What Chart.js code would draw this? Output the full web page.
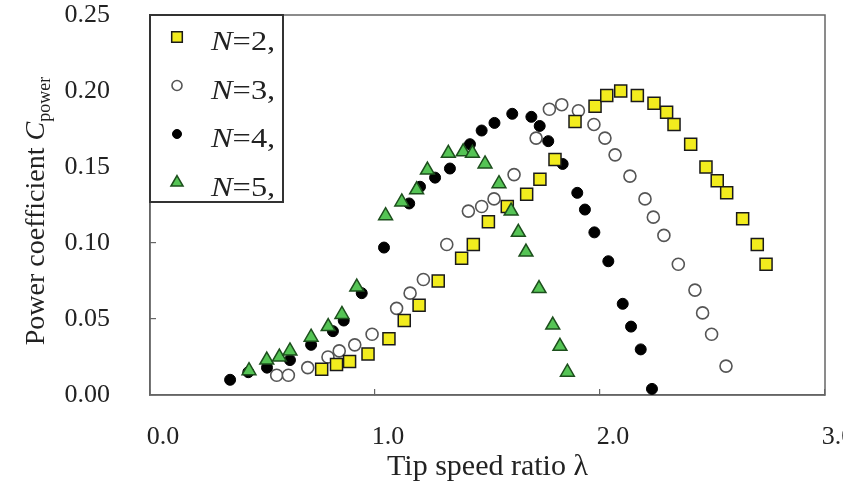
<!DOCTYPE html>
<html>
<head>
<meta charset="utf-8">
<script src="https://cdn.jsdelivr.net/npm/chart.js@4.4.1/dist/chart.umd.min.js"></script>
<style>
  body { margin: 0; background: #fff; }
</style>
</head>
<body>
<canvas id="myChart" width="843" height="492"></canvas>
<script>
// blade numbers
const bladeCounts = ['2', '3', '4', '5'];

// N=2 (yellow squares)
const lambdaN2 = [0.763, 0.829, 0.887, 0.969, 1.062, 1.130, 1.196, 1.281, 1.385, 1.437, 1.504, 1.588, 1.674, 1.733, 1.800,
    1.889, 1.978, 2.030, 2.092, 2.166, 2.240, 2.296, 2.329, 2.403, 2.471, 2.521, 2.563, 2.634, 2.699, 2.738];
const cpN2 = [0.017, 0.020, 0.022, 0.027, 0.037, 0.049, 0.059, 0.075, 0.090, 0.099, 0.114, 0.124, 0.132, 0.142, 0.155,
    0.180, 0.190, 0.197, 0.200, 0.197, 0.192, 0.186, 0.178, 0.165, 0.150, 0.141, 0.133, 0.116, 0.099, 0.086];

// N=3 (open circles)
const lambdaN3 = [0.563, 0.615, 0.701, 0.791, 0.841, 0.910, 0.987, 1.096, 1.156, 1.215, 1.319, 1.415, 1.474, 1.529, 1.618, 1.716,
    1.775, 1.830, 1.904, 1.973, 2.022, 2.067, 2.133, 2.200, 2.237, 2.284, 2.348, 2.422, 2.456, 2.496, 2.560];
const cpN3 = [0.013, 0.013, 0.018, 0.025, 0.029, 0.033, 0.040, 0.057, 0.067, 0.076, 0.099, 0.121, 0.124, 0.129, 0.145, 0.169,
    0.188, 0.191, 0.187, 0.178, 0.169, 0.158, 0.144, 0.129, 0.117, 0.105, 0.086, 0.069, 0.054, 0.040, 0.019];

// N=4 (filled circles)
const lambdaN4 = [0.356, 0.437, 0.520, 0.622, 0.716, 0.813, 0.861, 0.941, 1.040, 1.152, 1.200, 1.267, 1.333, 1.422, 1.474,
    1.531, 1.610, 1.695, 1.732, 1.770, 1.834, 1.899, 1.933, 1.975, 2.037, 2.101, 2.138, 2.181, 2.231];
const cpN4 = [0.010, 0.015, 0.018, 0.023, 0.033, 0.042, 0.049, 0.067, 0.097, 0.126, 0.137, 0.143, 0.149, 0.165, 0.174,
    0.179, 0.185, 0.183, 0.177, 0.167, 0.152, 0.133, 0.122, 0.107, 0.088, 0.060, 0.045, 0.030, 0.004];

// N=5 (green triangles)
const lambdaN5 = [0.440, 0.519, 0.575, 0.622, 0.716, 0.792, 0.853, 0.919, 1.047, 1.119, 1.185, 1.233, 1.326, 1.392, 1.433,
    1.489, 1.551, 1.605, 1.637, 1.671, 1.729, 1.790, 1.822, 1.855];
const cpN5 = [0.016, 0.023, 0.025, 0.029, 0.038, 0.045, 0.053, 0.071, 0.118, 0.127, 0.135, 0.148, 0.159, 0.160, 0.159,
    0.152, 0.139, 0.121, 0.107, 0.094, 0.070, 0.046, 0.032, 0.015];

const serif = '"Liberation Serif", "Times New Roman", serif';

function toPoints(xs, ys) {
    return xs.map((x, i) => ({ x: x, y: ys[i] }));
}

// frame around the plot area
const framePlugin = {
    id: 'frame',
    beforeDatasetsDraw(chart) {
        const { ctx, chartArea } = chart;
        ctx.save();
        ctx.strokeStyle = '#666';
        ctx.lineWidth = 1.5;
        ctx.strokeRect(chartArea.left, chartArea.top, chartArea.right - chartArea.left, chartArea.bottom - chartArea.top);
        ctx.restore();
    }
};

// legend box in the top left corner, N in italics
const legendBoxPlugin = {
    id: 'legendBox',
    afterDraw(chart) {
        const { ctx, chartArea } = chart;
        const left = chartArea.left;
        const top = chartArea.top;
        ctx.save();
        ctx.fillStyle = '#fff';
        ctx.fillRect(left, top, 133, 187);
        ctx.strokeStyle = '#333';
        ctx.lineWidth = 2;
        ctx.strokeRect(left, top, 133, 187);
        chart.data.datasets.forEach((ds, i) => {
            const y = top + 22 + i * 48.5;
            ctx.fillStyle = ds.backgroundColor;
            ctx.strokeStyle = ds.borderColor;
            ctx.lineWidth = ds.borderWidth;
            Chart.helpers.drawPoint(ctx, {
                pointStyle: ds.pointStyle,
                radius: ds.pointRadius - 1,
                rotation: 0,
                borderWidth: ds.borderWidth
            }, left + 27, y);
            // text is a bit wide in the original, stretch it
            ctx.save();
            ctx.translate(left + 61, y + 13);
            ctx.scale(1.2, 1);
            ctx.fillStyle = '#222';
            ctx.textBaseline = 'alphabetic';
            ctx.font = 'italic 27px ' + serif;
            ctx.fillText('N', 0, 0);
            const w = ctx.measureText('N').width;
            ctx.font = '27px ' + serif;
            ctx.fillText('=' + bladeCounts[i] + ',', w, 0);
            ctx.restore();
        });
        ctx.restore();
    }
};

// rotated y title with subscript
const yTitlePlugin = {
    id: 'yTitle',
    afterDraw(chart) {
        const { ctx, chartArea } = chart;
        const cy = (chartArea.top + chartArea.bottom) / 2 + 6;
        const parts = [
            { text: 'Power coefficient ', font: '28px ' + serif, dy: 0 },
            { text: 'C', font: 'italic 28px ' + serif, dy: 0 },
            { text: 'power', font: '18px ' + serif, dy: 6 }
        ];
        ctx.save();
        ctx.translate(44, cy);
        ctx.rotate(-Math.PI / 2);
        let total = 0;
        parts.forEach(p => { ctx.font = p.font; p.w = ctx.measureText(p.text).width; total += p.w; });
        let x = -total / 2;
        ctx.fillStyle = '#222';
        ctx.textBaseline = 'alphabetic';
        parts.forEach(p => { ctx.font = p.font; ctx.fillText(p.text, x, p.dy); x += p.w; });
        ctx.restore();
    }
};

const ctx = document.getElementById('myChart');

const data = {
    datasets: [{
        label: 'N=2,',
        data: toPoints(lambdaN2, cpN2),
        pointStyle: 'rect',
        pointRadius: 8.5,
        backgroundColor: '#f2ec1e',
        borderColor: '#1a1a1a',
        borderWidth: 1.5,
        order: 1
    }, {
        label: 'N=3,',
        data: toPoints(lambdaN3, cpN3),
        pointStyle: 'circle',
        pointRadius: 6,
        backgroundColor: '#ffffff',
        borderColor: '#555555',
        borderWidth: 1.6,
        order: 3
    }, {
        label: 'N=4,',
        data: toPoints(lambdaN4, cpN4),
        pointStyle: 'circle',
        pointRadius: 5.5,
        backgroundColor: '#000000',
        borderColor: '#000000',
        borderWidth: 1,
        order: 2
    }, {
        label: 'N=5,',
        data: toPoints(lambdaN5, cpN5),
        pointStyle: 'triangle',
        pointRadius: 8,
        backgroundColor: '#55c455',
        borderColor: '#1d4f1d',
        borderWidth: 1.5,
        order: 0
    }]
};

const options = {
    responsive: false,
    animation: false,
    layout: { padding: { top: 15, right: 18, left: 0, bottom: 0 } },
    plugins: {
        legend: { display: false },
        tooltip: { enabled: false }
    },
    scales: {
        x: {
            type: 'linear',
            min: 0,
            max: 3,
            afterFit: (scale) => { scale.height = 97; scale.paddingLeft = 0; scale.paddingRight = 0; },
            border: { display: true, color: '#666', width: 1.5 },
            grid: { drawOnChartArea: false, tickLength: -6, color: '#666', lineWidth: 1.2 },
            ticks: {
                stepSize: 1,
                padding: 33,
                labelOffset: 13,
                color: '#222',
                font: { family: serif, size: 26 },
                callback: (v) => v.toFixed(1)
            },
            title: {
                display: true,
                text: 'Tip speed ratio λ',
                color: '#222',
                font: { family: serif, size: 30 },
                padding: { top: 0, bottom: 7 }
            }
        },
        y: {
            type: 'linear',
            min: 0,
            max: 0.25,
            afterFit: (scale) => { scale.width = 150; scale.paddingTop = 0; scale.paddingBottom = 0; },
            border: { display: true, color: '#666', width: 1.5 },
            grid: { drawOnChartArea: false, tickLength: -6, color: '#666', lineWidth: 1.2 },
            ticks: {
                stepSize: 0.05,
                padding: 46,
                color: '#222',
                font: { family: serif, size: 26 },
                callback: (v) => v.toFixed(2)
            }
        }
    }
};

new Chart(ctx, {
    type: 'scatter',
    data: data,
    options: options,
    plugins: [framePlugin, legendBoxPlugin, yTitlePlugin]
});
</script>
</body>
</html>
